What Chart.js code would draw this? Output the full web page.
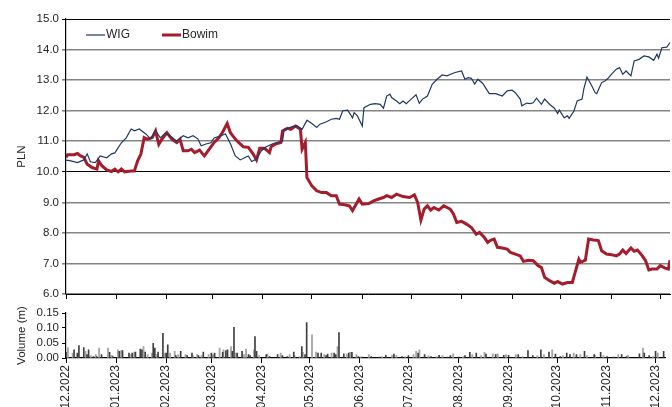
<!DOCTYPE html>
<html>
<head>
<meta charset="utf-8">
<script src="https://cdn.jsdelivr.net/npm/chart.js@4.4.0/dist/chart.umd.min.js"></script>
<style>
    html, body { margin: 0; padding: 0; background: #fff; overflow: hidden; }
    #priceBox { position: absolute; left: 0; top: 0; width: 672px; height: 304px; }
    #volBox { position: absolute; left: 0; top: 300px; width: 672px; height: 120px; }
</style>
</head>
<body>
<div id="priceBox"><canvas id="priceChart"></canvas></div>
<div id="volBox"><canvas id="volChart"></canvas></div>
<script>
// ----------------------------------------------- data ---------------------------------------------------------------------------
// x values are days counted from 01.12.2022

const monthDays = [0, 31, 62, 90, 121, 151, 182, 212, 243, 274, 304, 335, 365];
const monthLabels = [
    "12.2022", "01.2023", "02.2023", "03.2023", "04.2023", "05.2023", "06.2023",
    "07.2023", "08.2023", "09.2023", "10.2023", "11.2023", "12.2023"
];
const priceTicks = [6, 7, 8, 9, 10, 11, 12, 13, 14, 15];
const volTicks = [0, 0.05, 0.1, 0.15];

const wigDays = [
    0, 3, 7, 11, 13, 15, 18, 21, 25, 28, 30, 34, 37, 40, 42, 45, 49, 52, 55, 58, 61, 64, 68, 72, 75, 78, 81, 83, 86, 89,
    91, 95, 98, 101, 104, 107, 110, 112, 114, 117, 120, 123, 127, 133, 134, 139, 142, 145, 148, 151, 154, 156, 160, 163,
    166, 168, 170, 173, 176, 177, 179, 182, 183, 187, 190, 193, 195, 197, 199, 200, 203, 205, 207, 209, 212, 215, 217,
    219, 222, 225, 228, 231, 234, 237, 239, 243, 245, 247, 249, 251, 253, 256, 260, 264, 268, 271, 274, 276, 279, 280,
    283, 285, 287, 289, 292, 294, 297, 300, 302, 303, 306, 308, 309, 312, 314, 317, 318, 320, 323, 325, 326, 329, 331,
    333, 335, 338, 340, 342, 344, 347, 349, 352, 355, 358, 361, 363, 364, 366, 369, 371
];
const wigPrice = [
    10.38, 10.36, 10.30, 10.39, 10.59, 10.33, 10.30, 10.52, 10.46, 10.59, 10.62, 10.95, 11.11, 11.40, 11.34, 11.40,
    11.24, 11.08, 11.34, 11.11, 11.27, 11.18, 11.00, 11.18, 11.11, 11.18, 11.08, 10.85, 10.91, 10.95,
    11.11, 11.18, 11.24, 10.92, 10.52, 10.39, 10.47, 10.52, 10.34, 10.42, 10.69, 10.82, 10.92, 11.00, 11.39, 11.48,
    11.50, 11.39, 11.69, 11.58, 11.45, 11.56, 11.64, 11.72,
    11.75, 11.72, 12.00, 12.02, 11.77, 11.94, 11.83, 11.50, 12.10, 12.21, 12.23, 12.21, 12.08, 12.48, 12.54, 12.43,
    12.32, 12.23, 12.32, 12.23, 12.38, 12.52, 12.24,
    12.38, 12.48, 12.87, 13.03, 13.17, 13.14, 13.21, 13.25, 13.30, 13.03, 13.08, 13.06, 12.87, 13.03, 12.89, 12.56,
    12.56, 12.48, 12.65, 12.67, 12.59, 12.38, 12.16,
    12.25, 12.23, 12.26, 12.41, 12.21, 12.38, 12.21, 12.08, 11.91, 12.02, 11.77, 11.83, 11.75, 11.99, 12.32, 12.38,
    12.70, 13.10, 12.81, 12.59, 12.56, 12.92, 12.97,
    13.06, 13.19, 13.36, 13.41, 13.19, 13.30, 13.14, 13.63, 13.68, 13.79, 13.76, 13.65, 13.85, 13.72, 14.06, 14.08, 14.23
];

const bowimDays = [
    0, 1, 5, 7, 9, 11, 13, 16, 19, 20, 22, 25, 28, 30, 32, 34, 36, 40, 42, 44, 46, 48, 50, 53, 55, 57, 59, 62, 65, 68,
    70, 72, 75, 77, 79, 82, 85, 88, 91, 94, 96, 99, 101, 104, 106, 109, 112, 115, 117, 119, 122, 125, 126, 129, 132,
    133, 136, 138, 141, 144, 145, 147, 148, 151, 154, 157, 160, 163, 166, 168, 171, 174, 176, 178, 180, 182, 186, 189,
    192, 195, 197, 200, 203, 207, 211, 214, 216, 218, 220, 222, 224, 226, 229, 232, 236, 238, 240, 243, 246, 249, 252,
    254, 257, 259, 261, 263, 265, 268, 271, 273, 276, 279, 281, 284, 287, 290, 292, 294, 297, 300, 302, 305, 308, 311,
    313, 315, 316, 319, 321, 324, 327, 329, 332, 335, 338, 340, 342, 344, 347, 349, 351, 354, 356, 358, 360, 363, 365,
    368, 370, 371
];
const bowimPrice = [
    10.47, 10.56, 10.56, 10.60, 10.52, 10.47, 10.25, 10.14, 10.09, 10.36, 10.20, 10.06, 10.01, 10.09, 10.00, 10.09,
    10.00, 10.03, 10.03, 10.36, 10.58, 11.12, 11.07, 11.12, 11.34, 10.90, 11.07, 11.28, 11.07, 10.96,
    11.07, 10.69, 10.69, 10.74, 10.63, 10.71, 10.52, 10.74, 10.96, 11.12, 11.28, 11.58, 11.28, 11.07, 10.96, 10.82,
    10.80, 10.58, 10.39, 10.77, 10.77, 10.63, 10.82, 10.92, 10.96,
    11.34, 11.42, 11.39, 11.50, 11.39, 10.74, 10.96, 9.81, 9.54, 9.38, 9.32, 9.32, 9.22, 9.22, 8.94, 8.92, 8.89, 8.73,
    8.92, 9.11, 8.94, 8.96, 9.05,
    9.11, 9.16, 9.22, 9.16, 9.27, 9.19, 9.16, 9.25, 9.00, 8.42, 8.78, 8.89, 8.75, 8.83, 8.75, 8.89, 8.78, 8.62, 8.34,
    8.38, 8.29, 8.18, 7.96,
    8.02, 7.85, 7.69, 7.77, 7.80, 7.53, 7.51, 7.47, 7.36, 7.31, 7.25, 7.07, 7.11, 7.09, 6.93, 6.87, 6.55, 6.44, 6.35,
    6.41, 6.33, 6.38, 6.38,
    6.76, 7.14, 7.04, 7.11, 7.80, 7.77, 7.75, 7.42, 7.31, 7.29, 7.25, 7.31, 7.44, 7.33, 7.51, 7.40, 7.44, 7.25, 7.09,
    6.79, 6.82, 6.82, 6.93,
    6.85, 6.82, 7.11
];

// volume (m), dark and light bars
const volDarkDays = [
    0, 5, 7, 8, 11, 13, 14, 17, 19, 22, 27, 29, 33, 35, 39, 41, 43, 46, 47, 49, 54, 55, 57, 60, 62, 63, 68, 71, 75, 78,
    82, 85, 90, 92, 97, 99, 100, 103, 104, 106, 109, 113, 114, 117, 118, 124, 126, 131, 134, 137, 141, 146, 148, 149,
    156, 158, 161, 162, 166, 167, 169, 172, 175, 177, 181, 183, 189, 194, 198, 203, 208, 212, 218, 222, 226, 231, 236,
    238, 243, 247, 250, 254, 260, 266, 271, 274, 280, 286, 289, 294, 299, 303, 306, 310, 312, 316, 321, 327, 331, 335,
    339, 344, 347, 355, 358, 361, 365, 370
];
const volDark = [
    0.019, 0.027, 0.016, 0.041, 0.035, 0.011, 0.027, 0.005, 0.005, 0.011, 0.019, 0.005, 0.022, 0.025, 0.016, 0.016,
    0.020, 0.030, 0.027, 0.020, 0.049, 0.033, 0.020, 0.082, 0.016, 0.044, 0.008, 0.022, 0.008, 0.016,
    0.008, 0.020, 0.016, 0.016, 0.019, 0.025, 0.027, 0.022, 0.102, 0.016, 0.022, 0.011, 0.008, 0.071, 0.022, 0.011,
    0.005, 0.011, 0.008, 0.005, 0.020, 0.038, 0.011, 0.118,
    0.016, 0.016, 0.008, 0.013, 0.016, 0.011, 0.085, 0.014, 0.016, 0.019, 0.005, 0.003, 0.005, 0.003, 0.009, 0.013,
    0.005, 0.008, 0.016, 0.011, 0.005, 0.009, 0.003,
    0.008, 0.003, 0.008, 0.019, 0.016, 0.013, 0.011, 0.009, 0.009, 0.011, 0.025, 0.008, 0.027, 0.020, 0.013, 0.005,
    0.016, 0.011, 0.011, 0.022, 0.011, 0.019, 0.005,
    0.003, 0.011, 0.005, 0.014, 0.016, 0.008, 0.022, 0.022
];
const volLightDays = [
    1.2, 4.1, 7.6, 12.1, 15.3, 18.4, 20.5, 26, 28.4, 32.1, 34.2, 40.3, 42.3, 48, 50.5, 53.2, 56.3, 61.3, 64.4, 67.3,
    69.5, 74, 78.5, 81.2, 83.9, 88.3, 91, 95.1, 97.5, 102.2, 105.3, 110.2, 111.5, 116.4, 119.6, 124.7, 132.9, 138.5,
    141.5, 144.6, 146.6, 152.3, 154.8, 159.9, 164.4, 168.1, 173.8, 175.9, 179.8, 182.4, 187.5, 195.7, 201.8, 204.5,
    210, 215.1, 216.8, 218.8, 224.4, 229.4, 233.1, 239.7, 245.8, 251.5, 257, 259.1, 264.2, 267.3, 272.4, 278.5, 282.6,
    291.8, 295.9, 301, 307.6, 314.3, 318.4, 322.5, 327.6, 332.7, 341.9, 348, 357.2, 363.4, 366.4
];
const volLight = [
    0.035, 0.016, 0.011, 0.022, 0.008, 0.011, 0.033, 0.033, 0.009, 0.027, 0.025, 0.011, 0.020, 0.038, 0.011, 0.016,
    0.011, 0.016, 0.016, 0.022,
    0.011, 0.011, 0.008, 0.011, 0.008, 0.011, 0.011, 0.033, 0.027, 0.038, 0.016, 0.011, 0.030, 0.027, 0.008, 0.013,
    0.016, 0.011,
    0.008, 0.005, 0.019, 0.077, 0.020, 0.011, 0.016, 0.038, 0.013, 0.019, 0.011, 0.003, 0.011, 0.005, 0.009, 0.009,
    0.005, 0.011, 0.022, 0.027, 0.008, 0.005, 0.008, 0.014, 0.005, 0.011, 0.008, 0.019, 0.014, 0.014, 0.011, 0.011,
    0.005,
    0.008, 0.011, 0.027, 0.008, 0.016, 0.011, 0.008, 0.009, 0.008, 0.011, 0.009, 0.033, 0.005, 0.016
];

//Global Options
Chart.defaults.font.family = "'Liberation Sans', Arial, sans-serif";
Chart.defaults.font.size = 11.5;
Chart.defaults.color = "#262626";

const xMax = 371;
const axisWidth = 66;

function toPoints(xs, ys) {
    return xs.map((x, i) => ({ x: x, y: ys[i] }));
}

function monthTicks(scale) {
    scale.ticks = monthDays.map((d) => ({ value: d }));
}

// legend drawn inside the plot, top left
const insideLegend = {
    id: "insideLegend",
    afterDraw(chart) {
        const ctx = chart.ctx;
        const starts = [86, 162];
        const y = 35;
        ctx.save();
        ctx.font = "12px 'Liberation Sans', Arial, sans-serif";
        ctx.textBaseline = "middle";
        ctx.fillStyle = "#262626";
        chart.data.datasets.forEach((ds, i) => {
            ctx.beginPath();
            ctx.strokeStyle = ds.borderColor;
            ctx.lineWidth = ds.borderWidth;
            ctx.moveTo(starts[i], y);
            ctx.lineTo(starts[i] + 19, y);
            ctx.stroke();
            ctx.fillText(ds.label, starts[i] + 20, y);
        });
        ctx.restore();
    },
};

// -----------------------------------------------Price chart---------------------------------------------------------------------------
const priceData = {
    datasets: [
        {
            label: "WIG",
            data: toPoints(wigDays, wigPrice),
            borderColor: "#1f3864",
            borderWidth: 1.2,
            pointRadius: 0,
            tension: 0,
        },
        {
            label: "Bowim",
            data: toPoints(bowimDays, bowimPrice),
            borderColor: "#a51c2c",
            borderWidth: 3,
            pointRadius: 0,
            tension: 0,
        },
    ],
};

const priceConfig = {
    type: "line",
    data: priceData,
    options: {
        responsive: true,
        maintainAspectRatio: false,
        animation: false,
        layout: { padding: { top: 19, right: 2, left: 0, bottom: 0 } },
        scales: {
            x: {
                type: "linear",
                min: 0,
                max: xMax,
                afterBuildTicks: monthTicks,
                afterFit: (scale) => { scale.height = 4; },
                ticks: { display: false },
                grid: {
                    drawOnChartArea: false,
                    drawTicks: true,
                    tickLength: 5,
                    color: "#000",
                },
                border: { color: "#000", width: 1 },
            },
            y: {
                min: 6,
                max: 15,
                afterBuildTicks: (scale) => { scale.ticks = priceTicks.map((v) => ({ value: v })); },
                afterFit: (scale) => { scale.width = axisWidth; },
                ticks: {
                    autoSkip: false,
                    padding: 3,
                    callback: (value) => value.toFixed(1),
                },
                grid: {
                    tickLength: 4,
                    color: (context) => {
                        if (context.tick.value == 15 || context.tick.value == 10) {
                            return "#000000";
                        }
                        return "#858585";
                    },
                    lineWidth: (context) => {
                        if (context.tick.value == 15 || context.tick.value == 10) {
                            return 1;
                        }
                        return 1.6;
                    },
                },
                border: { color: "#000", width: 1.2 },
                title: {
                    display: true,
                    text: "PLN",
                    padding: { top: 15, bottom: 0 },
                },
            },
        },
        plugins: {
            legend: { display: false },
            tooltip: { enabled: false },
        },
    },
    plugins: [insideLegend],
};

const priceChart = new Chart(document.getElementById("priceChart").getContext("2d"), priceConfig);

// -----------------------------------------------Volume chart---------------------------------------------------------------------------
const volData = {
    datasets: [
        {
            label: "dark",
            data: toPoints(volDarkDays, volDark),
            backgroundColor: "#3f3f3f",
            barThickness: 1,
            grouped: false,
        },
        {
            label: "light",
            data: toPoints(volLightDays, volLight),
            backgroundColor: "#a6a6a6",
            barThickness: 1.2,
            grouped: false,
        },
    ],
};

const volConfig = {
    type: "bar",
    data: volData,
    options: {
        responsive: true,
        maintainAspectRatio: false,
        animation: false,
        layout: { padding: { top: 13, right: 2, left: 0, bottom: 0 } },
        scales: {
            x: {
                type: "linear",
                min: 0,
                max: xMax,
                offset: false,
                afterBuildTicks: monthTicks,
                afterFit: (scale) => { scale.height = 62; },
                ticks: {
                    autoSkip: false,
                    minRotation: 90,
                    maxRotation: 90,
                    padding: 2,
                    font: { size: 12 },
                    callback: (value) => monthLabels[monthDays.indexOf(value)],
                },
                grid: {
                    offset: false,
                    drawOnChartArea: false,
                    tickLength: 5,
                    color: "#000",
                },
                border: { color: "#000", width: 1.2 },
            },
            y: {
                min: 0,
                max: 0.15,
                afterBuildTicks: (scale) => { scale.ticks = volTicks.map((v) => ({ value: v })); },
                afterFit: (scale) => { scale.width = axisWidth; },
                ticks: {
                    autoSkip: false,
                    padding: 3,
                    callback: (value) => value.toFixed(2),
                },
                grid: {
                    drawOnChartArea: false,
                    tickLength: 4,
                    color: "#000",
                },
                border: { color: "#000", width: 1.2 },
                title: {
                    display: true,
                    text: "Volume (m)",
                    padding: { top: 15, bottom: 0 },
                },
            },
        },
        plugins: {
            legend: { display: false },
            tooltip: { enabled: false },
        },
    },
};

const volChart = new Chart(document.getElementById("volChart").getContext("2d"), volConfig);
</script>
</body>
</html>
